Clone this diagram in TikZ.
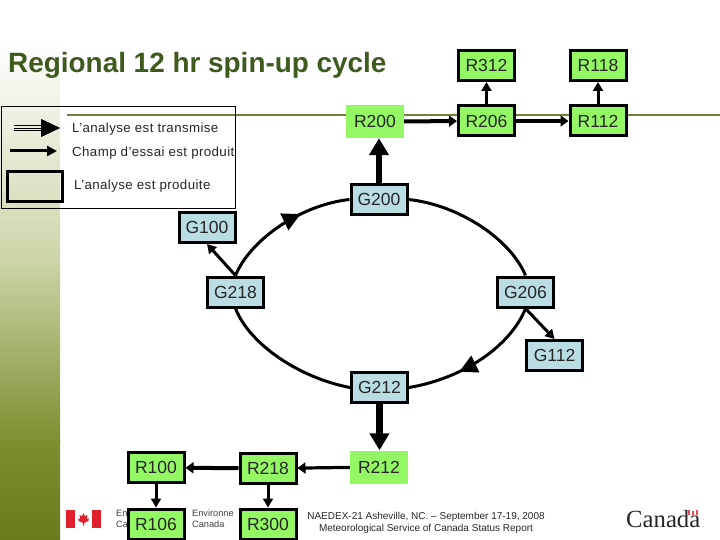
\documentclass[tikz,border=0pt]{standalone}
\usepackage{fontspec}
\setmainfont{Liberation Sans}
\newfontfamily\serifwm{Liberation Serif}
\usetikzlibrary{arrows.meta,decorations.markings}
\definecolor{gbox}{HTML}{94F764}
\definecolor{bbox}{HTML}{B9DDE3}
\definecolor{titlecol}{HTML}{3F5A1E}
\definecolor{rulecol}{HTML}{6F7F3C}
\definecolor{bandA}{HTML}{CBD5A8}
\definecolor{bandB}{HTML}{7A9030}
\definecolor{bandC}{HTML}{677D1B}
\definecolor{flagred}{HTML}{E0202C}
\tikzset{
  labelfont/.style={font=\fontsize{17.5}{20}\selectfont,text=black!85,inner sep=0pt},
  rbox/.style={labelfont,draw=black,line width=3pt,fill=gbox,minimum width=56pt,minimum height=30pt},
  rplain/.style={labelfont,fill=gbox,minimum width=58pt,minimum height=33pt},
  gbx/.style={labelfont,draw=black,line width=3pt,fill=bbox,minimum width=56pt,minimum height=30pt},
  fat/.style={line width=6.5pt,-{Triangle[length=17pt,width=19pt]}},
  mid/.style={line width=4pt,-{Triangle[length=8pt,width=11pt]}},
  midthin/.style={line width=3.2pt,-{Triangle[length=8pt,width=11pt]}},
  thin arrow/.style={line width=3pt,-{Triangle[length=9pt,width=10pt]}},
  arcline/.style={line width=3pt},
  legendtext/.style={font=\fontsize{13.3}{15}\selectfont\addfontfeature{LetterSpace=3},anchor=base west,inner sep=0pt,text=black!85},
  foot/.style={font=\fontsize{10}{12}\selectfont,align=center,inner sep=0pt,text=black!85},
  logotext/.style={font=\fontsize{9.2}{11}\selectfont,align=left,anchor=west,inner sep=0pt,text=black!75},
  tipmark/.style={postaction={decorate,decoration={markings,mark=at position #1 with {\arrow{Triangle[length=18pt,width=18pt]}}}}}
}
\begin{document}
\begin{tikzpicture}[x=1pt,y=-1pt]
\useasboundingbox (0,0) rectangle (720,540);
% side band
\fill[top color=white,bottom color=bandA] (0,40) rectangle (60,262);
\fill[top color=bandA,bottom color=bandB] (0,260) rectangle (60,442);
\fill[top color=bandB,bottom color=bandC] (0,440) rectangle (60,540);
% title and rule
\coordinate (ruleL) at (67,115);
\coordinate (ruleR) at (720,115);
\draw[rulecol,line width=1.6pt] (ruleL) -- (ruleR);
\node[font=\fontsize{27.9}{30}\selectfont\bfseries,text=titlecol,anchor=base west,inner sep=0pt] (title) at (8,73) {Regional 12 hr spin-up cycle};
% legend
\node[draw=black,line width=0.8pt,minimum width=234pt,minimum height=102pt,anchor=north west,inner sep=0pt] (legend) at (0.5,106.5) {};
\coordinate (la1) at (14,125.5); \coordinate (la1e) at (44,125.5);
\coordinate (la2) at (14,128); \coordinate (la2e) at (44,128);
\coordinate (la3) at (14,130.5); \coordinate (la3e) at (44,130.5);
\draw[line width=0.9pt] (la1) -- (la1e);
\draw[line width=0.9pt] (la2) -- (la2e);
\draw[line width=0.9pt] (la3) -- (la3e);
\coordinate (lat) at (60,128); \coordinate (las) at (41,128);
\draw[line width=0.1pt,-{Triangle[length=19pt,width=18pt]}] (las) -- (lat);
\coordinate (lb1) at (10,151); \coordinate (lb2) at (57,151);
\draw[thin arrow,-{Triangle[length=10pt,width=10pt]}] (lb1) -- (lb2);
\node[draw=black,line width=3pt,minimum width=55pt,minimum height=30pt,inner sep=0pt] (lsq) at (35,186.5) {};
\node[legendtext] (lt1) at (72,133) {L'analyse est transmise};
\node[legendtext] (lt2) at (72,157) {Champ d'essai est produit};
\node[legendtext] (lt3) at (74,190) {L'analyse est produite};
% logos
\fill[flagred] (66,510) rectangle (75,528);
\fill[flagred] (92,510) rectangle (101,528);
\fill[flagred] (83.5,513) -- (85,516) -- (87.5,515) -- (86.8,519) -- (89,518.5) -- (88.3,521) -- (84,523) -- (84,525.5) -- (83,525.5) -- (83,523) -- (78.7,521) -- (78,518.5) -- (80.2,519) -- (79.5,515) -- (82,516) -- cycle;
\node[logotext] (env) at (116,519) {En\\Ca};
\node[logotext] (envf) at (192,519) {Environne\\Canada};
\node[font=\serifwm\fontsize{24.7}{26}\selectfont,anchor=base west,inner sep=0pt,text=black!85] (wm) at (626,527) {Canada};
\fill[flagred!80] (688,510) rectangle (690,515);
\fill[flagred!80] (696,510) rectangle (698,515);
\fill[flagred!80] (692.2,511) rectangle (693.8,514.5);
\node[foot] (footer) at (426,523) {NAEDEX-21 Asheville, NC. -- September 17-19, 2008\\Meteorological Service of Canada Status Report};
% nodes
\node[rbox] (R312) at (486.5,65.5) {R312};
\node[rbox] (R118) at (598,65.5) {R118};
\node[rplain] (R200) at (375,121.5) {R200};
\node[rbox] (R206) at (486.5,121) {R206};
\node[rbox] (R112) at (598,121) {R112};
\node[gbx] (G200) at (379,199.5) {G200};
\node[gbx] (G100) at (207,227.5) {G100};
\node[gbx] (G218) at (235.5,292) {G218};
\node[gbx] (G206) at (525.5,292) {G206};
\node[gbx] (G112) at (554.5,355.5) {G112};
\node[gbx] (G212) at (379.5,387.5) {G212};
\node[rbox] (R100) at (156,467.5) {R100};
\node[rbox] (R218) at (268,468.5) {R218};
\node[rplain] (R212) at (379,467) {R212};
\node[rbox] (R106) at (156,524) {R106};
\node[rbox] (R300) at (268,524) {R300};
% connectors
\draw[mid] (R200) -- (R206);
\draw[mid] (R206) -- (R112);
\draw[thin arrow] (R206) -- (R312);
\draw[thin arrow] (R112) -- (R118);
\draw[fat] (G200) -- (R200.south -| G200);
\draw[fat] (G212) -- (R212.north -| G212);
\draw[thin arrow] (G218.north) -- (G100.south);
\draw[thin arrow] (G206.south) -- (G112.north);
\draw[mid] (R218) -- (R100);
\draw[midthin] (R212) -- (R218);
\draw[thin arrow] (R100) -- (R106);
\draw[thin arrow] (R218) -- (R300);
\draw[arcline,tipmark=0.64] (G218.north) .. controls (250,240) and (300,205) .. (G200.west);
\draw[arcline] (G200.east) .. controls (460,205) and (511,240) .. (G206.north);
\draw[arcline,tipmark=0.64] (G206.south) .. controls (511,345) and (465,378) .. (G212.east);
\draw[arcline] (G212.west) .. controls (300,378) and (250,345) .. (G218.south);
\end{tikzpicture}
\end{document}
